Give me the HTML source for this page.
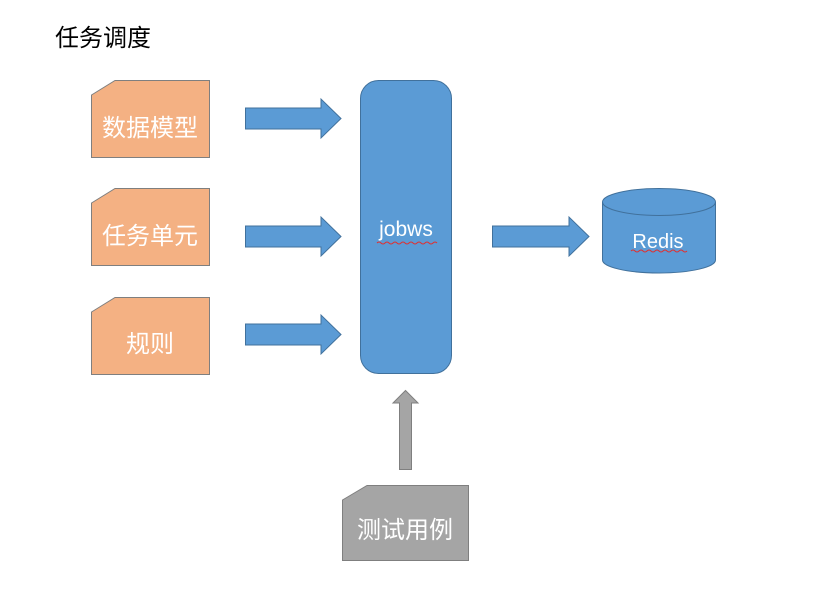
<!DOCTYPE html>
<html><head><meta charset="utf-8"><style>body{margin:0;background:#fff}</style></head><body>
<svg width="829" height="600" xmlns="http://www.w3.org/2000/svg" font-family="Liberation Sans, Noto Sans CJK SC, sans-serif">
<text x="55" y="46" font-size="24" fill="#000">任务调度</text>
<g fill="#F4B183" stroke="#7f7f7f" stroke-width="1">
<path d="M91.5 95 L115 80.5 H209.5 V157.5 H91.5 Z"/>
<path d="M91.5 203 L115 188.5 H209.5 V265.5 H91.5 Z"/>
<path d="M91.5 312 L115 297.5 H209.5 V374.5 H91.5 Z"/>
</g>
<g fill="#fff" font-size="24" text-anchor="middle">
<text x="150" y="136">数据模型</text>
<text x="150" y="244">任务单元</text>
<text x="150" y="352">规则</text>
</g>
<g fill="#5B9BD5" stroke="#41719C" stroke-width="1">
<path d="M245.5 108 H321 V99 L341 118.5 L321 138 V129 H245.5 Z"/>
<path d="M245.5 226 H321 V217 L341 236.5 L321 256 V247 H245.5 Z"/>
<path d="M245.5 324 H321 V315 L341 334.5 L321 354 V345 H245.5 Z"/>
<path d="M492.5 226 H569 V217 L589 236.5 L569 256 V247 H492.5 Z"/>
<rect x="360.5" y="80.5" width="91" height="293" rx="18"/>
<path d="M602.5 202 V260 A56.5 13 0 0 0 715.5 260 V202"/>
<ellipse cx="659" cy="202" rx="56.5" ry="13.5"/>
</g>
<text x="406" y="236" font-size="21" fill="#fff" text-anchor="middle">jobws</text>
<text x="658" y="248" font-size="20" fill="#fff" text-anchor="middle">Redis</text>
<path d="M377 243 q2 -2 4 0 t4 0 t4 0 t4 0 t4 0 t4 0 t4 0 t4 0 t4 0 t4 0 t4 0 t4 0 t4 0 t4 0 t4 0" stroke="#e03030" stroke-width="1" fill="none"/>
<path d="M631 251 q2 -2 4 0 t4 0 t4 0 t4 0 t4 0 t4 0 t4 0 t4 0 t4 0 t4 0 t4 0 t4 0 t4 0 t4 0" stroke="#e03030" stroke-width="1" fill="none"/>
<g fill="#A5A5A5" stroke="#7f7f7f" stroke-width="1">
<path d="M399.5 469.5 V403 H393 L405.5 390.5 L418 403 H411.5 V469.5 Z"/>
<path d="M342.5 500 L367 485.5 H468.5 V560.5 H342.5 Z"/>
</g>
<text x="405" y="538" font-size="24" fill="#fff" text-anchor="middle">测试用例</text>
</svg>
</body></html>
